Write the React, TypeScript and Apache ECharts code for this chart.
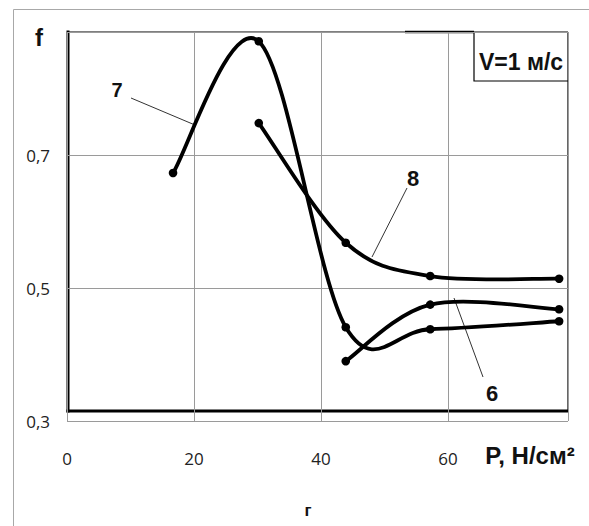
import React, { useEffect, useRef } from "react";
import * as echarts from "echarts";

// Load P (Н/см²) and friction coefficient f
const curve7P = [16.7, 30.2, 43.9, 57.2, 77.5];
const curve7F = [0.673, 0.871, 0.441, 0.438, 0.45];
const curve8P = [30.2, 43.9, 57.2, 77.5];
const curve8F = [0.748, 0.568, 0.518, 0.514];
const curve6P = [43.9, 57.2, 77.5];
const curve6F = [0.39, 0.475, 0.468];

const xTicks = [0, 20, 40, 60];
const yTicks = [0.3, 0.5, 0.7];

const narrow = "'Liberation Sans Narrow', 'Arial Narrow', 'Liberation Sans', Arial, sans-serif";
const tickFont = "'Open Sans', 'Noto Sans', sans-serif";

function pairs(xs: number[], ys: number[]) {
  return xs.map((x, i) => [x, ys[i]]);
}

// Catmull-Rom spline drawn through the data points, positioned with the axes' scales
function makeRenderer(xs: number[], ys: number[]) {
  return (params: any, api: any) => {
    const i = params.dataIndex;
    const n = xs.length;
    const pt = (k: number) => api.coord([xs[k], ys[k]]);
    const p1 = pt(i);
    const children: any[] = [];
    if (i < n - 1) {
      const p0 = pt(Math.max(i - 1, 0));
      const p2 = pt(i + 1);
      const p3 = pt(Math.min(i + 2, n - 1));
      const t = 1 / 6;
      children.push({
        type: "bezierCurve",
        shape: {
          x1: p1[0],
          y1: p1[1],
          cpx1: p1[0] + (p2[0] - p0[0]) * t,
          cpy1: p1[1] + (p2[1] - p0[1]) * t,
          cpx2: p2[0] - (p3[0] - p1[0]) * t,
          cpy2: p2[1] - (p3[1] - p1[1]) * t,
          x2: p2[0],
          y2: p2[1],
        },
        style: { stroke: "#000", lineWidth: 3.8, fill: "none", lineCap: "round" },
      });
    }
    children.push({
      type: "circle",
      shape: { cx: p1[0], cy: p1[1], r: 4.3 },
      style: { fill: "#000" },
    });
    return { type: "group", children };
  };
}

export default function App() {
  const ref = useRef<HTMLDivElement>(null);
  useEffect(() => {
    const chart = echarts.init(ref.current!, null, { renderer: "svg" });
    const mkSeries = (name: string, xs: number[], ys: number[]) => ({
      name,
      type: "custom",
      data: pairs(xs, ys),
      encode: { x: 0, y: 1 },
      renderItem: makeRenderer(xs, ys),
      z: 5,
    });
    chart.setOption({
      animation: false,
      backgroundColor: "#fff",
      grid: { left: 67, right: 21, top: 32, bottom: 105 },
      xAxis: {
        type: "value",
        min: xTicks[0],
        max: 78.9,
        interval: xTicks[1] - xTicks[0],
        axisLine: { show: false },
        axisTick: { show: false },
        splitLine: { show: true, lineStyle: { color: "#9a9a9a", width: 1 } },
        axisLabel: {
          showMaxLabel: false,
          margin: 29,
          fontFamily: tickFont,
          fontSize: 17,
          color: "#222",
        },
      },
      yAxis: {
        type: "value",
        min: yTicks[0],
        max: 0.885,
        interval: yTicks[1] - yTicks[0],
        axisLine: { show: false },
        axisTick: { show: false },
        splitLine: { show: true, lineStyle: { color: "#9a9a9a", width: 1 } },
        axisLabel: {
          showMaxLabel: false,
          margin: 17,
          fontFamily: tickFont,
          fontSize: 17,
          color: "#222",
          formatter: (v: number) => v.toFixed(1).replace(".", ","),
        },
      },
      series: [
        mkSeries("7", curve7P, curve7F),
        mkSeries("8", curve8P, curve8F),
        mkSeries("6", curve6P, curve6F),
      ],
      graphic: [
        { type: "rect", silent: true, shape: { x: 13.5, y: 9.5, width: 700, height: 700 }, style: { fill: "none", stroke: "#a8a8a8", lineWidth: 1 } },
        { type: "line", silent: true, shape: { x1: 68, y1: 32, x2: 568, y2: 32 }, style: { stroke: "#000", lineWidth: 1.2 } },
        { type: "line", silent: true, shape: { x1: 405, y1: 32, x2: 474, y2: 32 }, style: { stroke: "#000", lineWidth: 2.5 } },
        { type: "line", silent: true, shape: { x1: 568, y1: 32, x2: 568, y2: 411 }, style: { stroke: "#000", lineWidth: 1.2 } },
        { type: "line", silent: true, shape: { x1: 68, y1: 30.5, x2: 68, y2: 412.5 }, style: { stroke: "#000", lineWidth: 3 } },
        { type: "line", silent: true, shape: { x1: 66.5, y1: 411, x2: 569, y2: 411 }, style: { stroke: "#000", lineWidth: 3 } },
        { type: "polyline", silent: true, shape: { points: [[474, 32], [474, 81], [569, 81]] }, style: { fill: "none", stroke: "#000", lineWidth: 1.2 } },
        { type: "text", silent: true, x: 521, y: 62, style: { text: "V=1 м/с", font: `bold 23px ${narrow}`, fill: "#111", align: "center", verticalAlign: "middle" } },
        { type: "text", silent: true, x: 39, y: 37, style: { text: "f", font: `bold 24px ${narrow}`, fill: "#111", align: "center", verticalAlign: "middle" } },
        { type: "text", silent: true, x: 117, y: 90, style: { text: "7", font: `bold 20px ${narrow}`, fill: "#111", align: "center", verticalAlign: "middle" } },
        { type: "line", silent: true, shape: { x1: 131, y1: 98, x2: 195, y2: 125 }, style: { stroke: "#333", lineWidth: 1 } },
        { type: "text", silent: true, x: 413, y: 178, style: { text: "8", font: `bold 22px ${narrow}`, fill: "#111", align: "center", verticalAlign: "middle" } },
        { type: "line", silent: true, shape: { x1: 407, y1: 188, x2: 372, y2: 257 }, style: { stroke: "#333", lineWidth: 1 } },
        { type: "text", silent: true, x: 492, y: 393, style: { text: "6", font: `bold 22px ${narrow}`, fill: "#111", align: "center", verticalAlign: "middle" } },
        { type: "line", silent: true, shape: { x1: 454, y1: 298, x2: 483, y2: 377 }, style: { stroke: "#333", lineWidth: 1 } },
        { type: "text", silent: true, x: 530, y: 455, style: { text: "P, Н/см²", font: `bold 24px ${narrow}`, fill: "#111", align: "center", verticalAlign: "middle" } },
        { type: "text", silent: true, x: 308, y: 510, style: { text: "г", font: `bold 17px ${narrow}`, fill: "#111", align: "center", verticalAlign: "middle" } },
      ],
    });
    return () => chart.dispose();
  }, []);
  return (
    <div
      ref={ref}
      style={{ position: "fixed", left: 0, top: 0, width: 589, height: 526, background: "#fff" }}
    />
  );
}
